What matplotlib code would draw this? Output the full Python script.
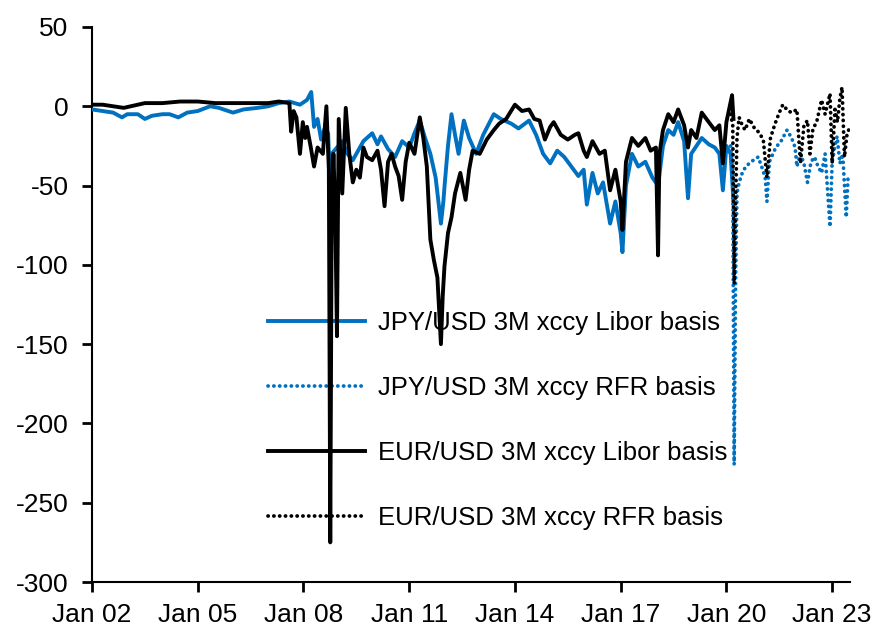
import numpy as np
import pandas as pd
import matplotlib
matplotlib.use("Agg")
import matplotlib.pyplot as plt
import matplotlib.dates as mdates

plt.rcParams['font.family'] = ['Liberation Sans', 'DejaVu Sans']
plt.rcParams['axes.unicode_minus'] = False

# data, x in decimal years
jpy_libor_t = [2002.0, 2002.3, 2002.6, 2002.85, 2003.0, 2003.3, 2003.5, 2003.7, 2004.0, 2004.2,
               2004.45, 2004.7, 2005.0, 2005.35, 2005.6, 2006.0, 2006.3, 2006.7, 2007.0, 2007.3,
               2007.6, 2007.9, 2008.1, 2008.22, 2008.3, 2008.4, 2008.5, 2008.6, 2008.7, 2008.76,
               2008.8, 2008.95, 2009.1, 2009.25, 2009.4, 2009.55, 2009.7, 2009.95, 2010.1, 2010.2,
               2010.4, 2010.6, 2010.8, 2011.0, 2011.15, 2011.3, 2011.45, 2011.6, 2011.75, 2011.9,
               2011.97, 2012.0, 2012.1, 2012.2, 2012.3, 2012.4, 2012.55, 2012.7, 2012.9, 2013.1,
               2013.4, 2013.6, 2013.9, 2014.1, 2014.4, 2014.6, 2014.8, 2015.0, 2015.2, 2015.4,
               2015.6, 2015.8, 2015.95, 2016.04, 2016.2, 2016.35, 2016.5, 2016.7, 2016.85, 2017.0,
               2017.05, 2017.15, 2017.32, 2017.5, 2017.7, 2017.9, 2018.06, 2018.2, 2018.35, 2018.5,
               2018.63, 2018.8, 2018.91, 2019.0, 2019.3, 2019.5, 2019.67, 2019.8, 2019.9, 2020.0,
               2020.12, 2020.2]
jpy_libor_v = [-2, -3, -4, -7, -5, -5, -8, -6, -5, -5,
               -7, -4, -3, 0, -1, -4, -2, -1, 0, 2,
               3, 1, 4, 9, -13, -8, -21, -14, -17, -55,
               -30, -26, -22, -30, -34, -28, -22, -17, -24, -19,
               -27, -32, -22, -26, -17, -9, -20, -30, -45, -74,
               -60, -51, -25, -5, -18, -30, -9, -20, -30, -18,
               -5, -8, -11, -14, -9, -18, -30, -36, -28, -32,
               -38, -44, -40, -62, -42, -55, -48, -74, -60, -80,
               -92, -50, -30, -38, -35, -45, -50, -25, -15, -18,
               -10, -22, -58, -30, -20, -24, -26, -30, -53, -25,
               -30, -60]

eur_libor_t = [2002.0, 2002.3, 2002.6, 2002.9, 2003.1, 2003.5, 2004.0, 2004.5, 2005.0, 2005.5,
               2006.0, 2006.5, 2007.0, 2007.3, 2007.6, 2007.65, 2007.72, 2007.8, 2007.9, 2007.98,
               2008.05, 2008.1, 2008.2, 2008.3, 2008.4, 2008.55, 2008.65, 2008.72, 2008.76, 2008.8,
               2008.85, 2008.9, 2008.95, 2009.0, 2009.1, 2009.2, 2009.3, 2009.4, 2009.5, 2009.6,
               2009.7, 2009.8, 2009.95, 2010.1, 2010.2, 2010.3, 2010.4, 2010.5, 2010.6, 2010.7,
               2010.8, 2010.9, 2011.0, 2011.15, 2011.3, 2011.4, 2011.5, 2011.6, 2011.7, 2011.8,
               2011.9, 2011.95, 2012.0, 2012.1, 2012.2, 2012.3, 2012.45, 2012.6, 2012.7, 2012.8,
               2013.0, 2013.2, 2013.4, 2013.55, 2013.75, 2014.0, 2014.2, 2014.4, 2014.55, 2014.7,
               2014.85, 2015.0, 2015.1, 2015.3, 2015.5, 2015.7, 2015.8, 2015.95, 2016.04, 2016.2,
               2016.4, 2016.55, 2016.7, 2016.85, 2017.0, 2017.05, 2017.15, 2017.32, 2017.5, 2017.7,
               2017.85, 2018.0, 2018.06, 2018.1, 2018.2, 2018.35, 2018.5, 2018.63, 2018.8, 2018.91,
               2019.0, 2019.15, 2019.3, 2019.5, 2019.67, 2019.8, 2019.9, 2020.0, 2020.16, 2020.2]
eur_libor_v = [1, 1, 0, -1, 0, 2, 2, 3, 3, 2,
               2, 2, 2, 3, 2, -16, -3, -7, -30, -10,
               -20, -13, -25, -38, -26, -30, 0, -40, -275, -70,
               -30, -65, -145, -8, -55, -1, -30, -48, -40, -45,
               -26, -32, -34, -28, -40, -63, -35, -30, -38, -44,
               -59, -35, -23, -30, -7, -20, -38, -84, -97, -108,
               -150, -120, -101, -80, -70, -55, -42, -59, -40, -28,
               -30, -21, -15, -11, -8, 1, -3, -2, -8, -9,
               -21, -13, -10, -18, -21, -18, -17, -28, -32, -22,
               -30, -28, -53, -40, -60, -78, -35, -20, -25, -20,
               -28, -26, -94, -30, -15, -5, -10, -2, -12, -26,
               -15, -20, -4, -10, -15, -12, -36, -10, 7, -8]

jpy_rfr_t = [2020.12, 2020.18, 2020.22, 2020.26, 2020.3, 2020.36, 2020.45, 2020.55, 2020.7, 2020.9,
             2021.0, 2021.1, 2021.15, 2021.22, 2021.4, 2021.55, 2021.72, 2021.85, 2021.95, 2022.0,
             2022.1, 2022.2, 2022.3, 2022.4, 2022.5, 2022.6, 2022.7, 2022.8, 2022.94, 2023.0,
             2023.08, 2023.14, 2023.22, 2023.3, 2023.4, 2023.45, 2023.5]
jpy_rfr_v = [-25, -45, -226, -110, -55, -48, -42, -38, -35, -32,
             -38, -45, -60, -35, -26, -22, -15, -20, -26, -38,
             -30, -36, -48, -35, -32, -38, -42, -30, -76, -35,
             -25, -19, -36, -30, -70, -45, -47]

eur_rfr_t = [2020.12, 2020.18, 2020.22, 2020.26, 2020.3, 2020.36, 2020.45, 2020.53, 2020.65, 2020.8,
             2020.95, 2021.05, 2021.15, 2021.25, 2021.38, 2021.5, 2021.6, 2021.75, 2021.86, 2022.0,
             2022.1, 2022.2, 2022.3, 2022.37, 2022.45, 2022.57, 2022.7, 2022.8, 2022.94, 2023.0,
             2023.08, 2023.15, 2023.22, 2023.28, 2023.35, 2023.42, 2023.5]
eur_rfr_v = [-5, -12, -112, -60, -20, -7, -12, -15, -8, -14,
             -17, -22, -45, -20, -11, -4, 1, -3, -4, -2,
             -36, -12, -9, -30, -15, -9, 4, -5, 8, -36,
             -2, -10, 5, 12, -32, -18, -13]

tick_years = [2002, 2005, 2008, 2011, 2014, 2017, 2020, 2023]
labels = ['JPY/USD 3M xccy Libor basis', 'JPY/USD 3M xccy RFR basis',
          'EUR/USD 3M xccy Libor basis', 'EUR/USD 3M xccy RFR basis']


def to_dates(years):
    years = np.asarray(years, dtype=float)
    days = (years - 2002.0) * 365.25
    return pd.Timestamp('2002-01-01') + pd.to_timedelta(days, unit='D')


blue = '#0070C0'
dots = (0, (0.05, 1.5))
fig = plt.figure(figsize=(8.83, 6.32), dpi=100)
ax = fig.add_axes([0.1042, 0.0791, 0.8584, 0.8782])

ax.plot(to_dates(jpy_libor_t), jpy_libor_v, color=blue, lw=2.8, label=labels[0], zorder=3)
ax.plot(to_dates(jpy_rfr_t), jpy_rfr_v, color=blue, lw=2.7, ls=dots,
        dash_capstyle='round', label=labels[1], zorder=3)
ax.plot(to_dates(eur_libor_t), eur_libor_v, color='black', lw=2.8, label=labels[2], zorder=4)
ax.plot(to_dates(eur_rfr_t), eur_rfr_v, color='black', lw=2.7, ls=dots,
        dash_capstyle='round', label=labels[3], zorder=4)

ax.set_ylim(-300, 50)
ax.set_yticks(np.arange(-300, 51, 50))
ax.set_xlim(pd.Timestamp('2002-01-01'), pd.Timestamp('2023-07-05'))
ax.set_xticks([pd.Timestamp(f'{y}-01-01') for y in tick_years])
ax.xaxis.set_major_formatter(mdates.DateFormatter('Jan %y'))

for s in ['top', 'right']:
    ax.spines[s].set_visible(False)
for s in ['left', 'bottom']:
    ax.spines[s].set_linewidth(1.5)
ax.tick_params(axis='both', labelsize=19, width=2, length=7, direction='out')
ax.tick_params(axis='y', pad=10)
ax.tick_params(axis='x', pad=8)

leg = ax.legend(loc='upper left', bbox_to_anchor=(0.232, 0.488), frameon=False,
                fontsize=18.5, handlelength=3.8, handletextpad=0.5, labelspacing=1.6,
                borderpad=0, borderaxespad=0)
leg.set_zorder(1)

fig.savefig('out.png', dpi=100)
